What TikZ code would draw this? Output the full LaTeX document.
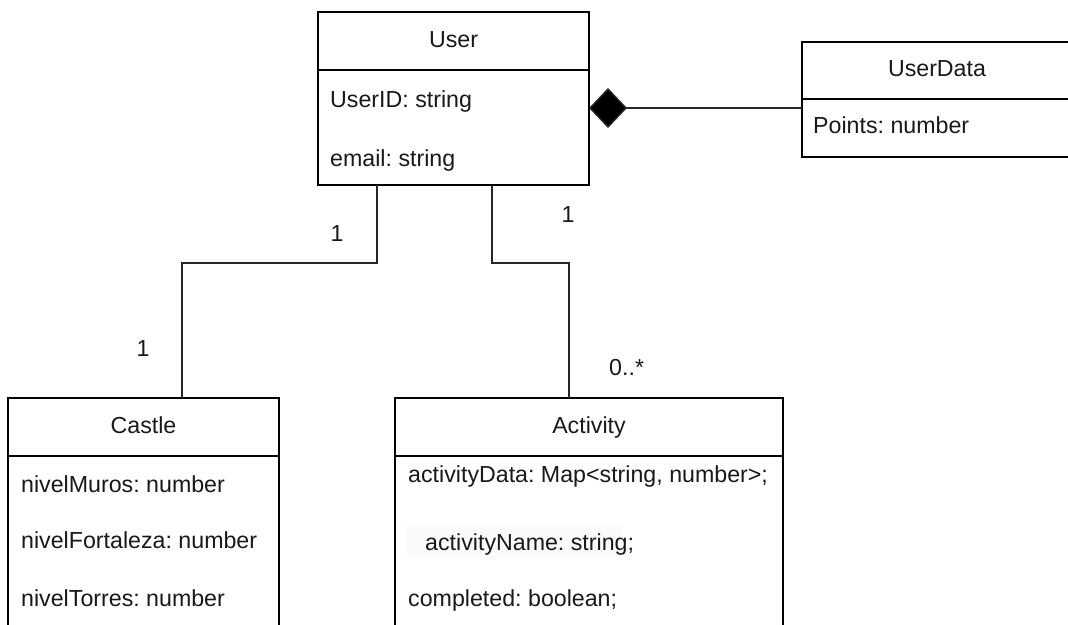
\documentclass[tikz,border=0pt]{standalone}
\usepackage{fontspec}
\setmainfont{Liberation Sans}
\usetikzlibrary{arrows.meta}
\frenchspacing
\tikzset{
  cls/.style={draw=black, line width=1.4pt, rectangle, anchor=north west, inner sep=0pt, outer sep=0pt},
  divider/.style={draw=black, line width=1.4pt},
  conn/.style={draw=black!85, line width=1.4pt},
  txt/.style={font=\fontsize{23.2}{27}\selectfont, text=black!90, inner sep=0pt, anchor=base west},
  ttl/.style={font=\fontsize{23.2}{27}\selectfont, text=black!90, inner sep=0pt, anchor=base},
}
\begin{document}
\begin{tikzpicture}[x=1pt,y=-1pt]
\clip (0,0) rectangle (1068,624);
\fill[white] (0,0) rectangle (1068,624);

% User
\node[cls, minimum width=271pt, minimum height=173pt] (user) at (318,12) {};
\draw[divider] (318,70) -- (589,70);
\node[ttl] (userT) at (453.5,47) {User};
\node[txt] (userA1) at (330,107) {UserID: string};
\node[txt] (userA2) at (330,166) {email: string};

% UserData
\node[cls, minimum width=270pt, minimum height=115pt] (userdata) at (802,42) {};
\draw[divider] (802,99) -- (1072,99);
\node[ttl] (udT) at (937,76) {UserData};
\node[txt] (udA1) at (813,133) {Points: number};

% Castle
\node[cls, minimum width=271pt, minimum height=260pt] (castle) at (8,398) {};
\draw[divider] (8,456) -- (279,456);
\node[ttl] (castleT) at (143.5,433) {Castle};
\node[txt] (cA1) at (21,492) {nivelMuros: number};
\node[txt] (cA2) at (21,548) {nivelFortaleza: number};
\node[txt] (cA3) at (21,606) {nivelTorres: number};

% Activity
\node[cls, minimum width=388pt, minimum height=260pt] (activity) at (395,398) {};
\draw[divider] (395,456) -- (783,456);
\node[ttl] (actT) at (589,433) {Activity};
\node[txt] (aA1) at (408,482) {activityData: Map<string, number>;};
\fill[black!2] (407,525) rectangle (622,557);
\node[txt] (aA2) at (425,550) {activityName: string;};
\node[txt] (aA3) at (408,606) {completed: boolean;};

% Connectors
\draw[conn] ([xshift=59pt]user.south west) -- ++(0,78) -| ([xshift=174pt]castle.north west);
\draw[conn] ([xshift=174pt]user.south west) -- ++(0,78) -| ([xshift=174pt]activity.north west);

\coordinate (ue) at ([yshift=-9.5pt]user.east);
\draw[conn, -{Diamond[length=38pt,width=40pt,fill=black]}] (userdata.west |- ue) -- (ue);

% Multiplicities
\node[ttl] (m1) at (337,241) {1};
\node[ttl] (m2) at (568,222) {1};
\node[ttl] (m3) at (143,356) {1};
\node[txt] (m4) at (609,375) {0..*};
\end{tikzpicture}
\end{document}
